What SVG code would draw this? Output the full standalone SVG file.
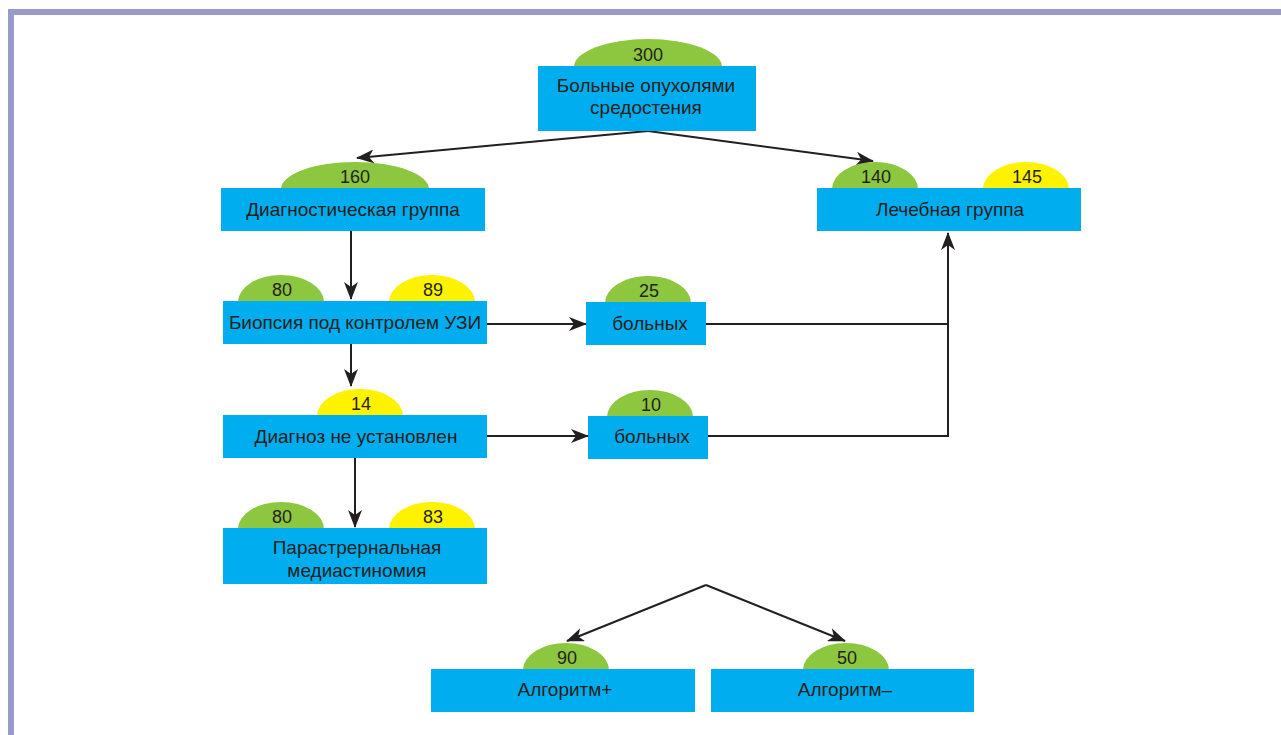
<svg xmlns="http://www.w3.org/2000/svg" width="1281" height="735" viewBox="0 0 1281 735">
<defs>
<marker id="ah" viewBox="0 0 18 14" refX="17" refY="7" markerWidth="18" markerHeight="14" markerUnits="userSpaceOnUse" orient="auto">
<path d="M0,0 L18,7 L0,14 L5,7 Z" fill="#231f20"/>
</marker>
<style>
.box{fill:#00adef}
.g{fill:#8dc63f}
.y{fill:#fff200}
text{font-family:"Liberation Sans",Arial,sans-serif;font-size:19px;fill:#231f20;text-anchor:middle}
.n{font-size:18px}
.c{stroke:#231f20;stroke-width:2;fill:none}
</style>
</defs>
<rect x="0" y="0" width="1281" height="735" fill="#ffffff"/>
<rect x="8" y="9" width="1273" height="6" fill="#9b9bcb"/>
<rect x="8" y="9" width="6" height="726" fill="#9b9bcb"/>

<g id="connectors">
<path class="c" d="M648,131 L357,158" marker-end="url(#ah)"/>
<path class="c" d="M648,131 L873,161" marker-end="url(#ah)"/>
<path class="c" d="M351,231 L351,299" marker-end="url(#ah)"/>
<path class="c" d="M351,344 L351,386" marker-end="url(#ah)"/>
<path class="c" d="M355,458 L355,527" marker-end="url(#ah)"/>
<path class="c" d="M487,324 L586,324" marker-end="url(#ah)"/>
<path class="c" d="M487,436 L588,436" marker-end="url(#ah)"/>
<path class="c" d="M706,324 L948,324"/>
<path class="c" d="M708,436 L948,436 L948,233" marker-end="url(#ah)"/>
<path class="c" d="M706,585 L567,641" marker-end="url(#ah)"/>
<path class="c" d="M706,585 L845,641" marker-end="url(#ah)"/>
</g>

<g id="n-top">
<ellipse class="g" cx="648" cy="67" rx="74" ry="28"/>
<rect class="box" x="538" y="66" width="218" height="65"/>
<text class="n" x="648" y="61">300</text>
<text x="646" y="92">Больные опухолями</text>
<text x="646" y="114">средостения</text>
</g>

<g id="n-diag">
<ellipse class="g" cx="355" cy="189" rx="74" ry="27"/>
<rect class="box" x="221" y="188" width="264" height="43"/>
<text class="n" x="355" y="183">160</text>
<text x="353" y="216">Диагностическая группа</text>
</g>

<g id="n-lech">
<ellipse class="g" cx="875" cy="189" rx="43" ry="27"/>
<ellipse class="y" cx="1026" cy="189" rx="43" ry="27"/>
<rect class="box" x="817" y="188" width="264" height="43"/>
<text class="n" x="876" y="183">140</text>
<text class="n" x="1027" y="183">145</text>
<text x="950" y="216">Лечебная группа</text>
</g>

<g id="n-biop">
<ellipse class="g" cx="281" cy="302" rx="43" ry="27"/>
<ellipse class="y" cx="432" cy="302" rx="43" ry="27"/>
<rect class="box" x="223" y="301" width="264" height="43"/>
<text class="n" x="282" y="296">80</text>
<text class="n" x="433" y="296">89</text>
<text x="355" y="329">Биопсия под контролем УЗИ</text>
</g>

<g id="n-b25">
<ellipse class="g" cx="648" cy="303" rx="43" ry="27"/>
<rect class="box" x="586" y="302" width="120" height="43"/>
<text class="n" x="649" y="297">25</text>
<text x="650" y="330">больных</text>
</g>

<g id="n-nediag">
<ellipse class="y" cx="360" cy="416" rx="43" ry="27"/>
<rect class="box" x="223" y="415" width="264" height="43"/>
<text class="n" x="361" y="410">14</text>
<text x="356" y="443">Диагноз не установлен</text>
</g>

<g id="n-b10">
<ellipse class="g" cx="650" cy="417" rx="43" ry="27"/>
<rect class="box" x="588" y="416" width="120" height="43"/>
<text class="n" x="651" y="411">10</text>
<text x="652" y="443">больных</text>
</g>

<g id="n-para">
<ellipse class="g" cx="281" cy="529" rx="43" ry="27"/>
<ellipse class="y" cx="432" cy="529" rx="43" ry="27"/>
<rect class="box" x="223" y="528" width="264" height="56"/>
<text class="n" x="282" y="523">80</text>
<text class="n" x="433" y="523">83</text>
<text x="357" y="554">Парастрернальная</text>
<text x="357" y="577">медиастиномия</text>
</g>

<g id="n-algp">
<ellipse class="g" cx="566" cy="670" rx="43" ry="27"/>
<rect class="box" x="431" y="669" width="264" height="43"/>
<text class="n" x="567" y="664">90</text>
<text x="565" y="696">Алгоритм+</text>
</g>

<g id="n-algm">
<ellipse class="g" cx="846" cy="670" rx="43" ry="27"/>
<rect class="box" x="711" y="669" width="263" height="43"/>
<text class="n" x="847" y="664">50</text>
<text x="845" y="696">Алгоритм–</text>
</g>
</svg>
